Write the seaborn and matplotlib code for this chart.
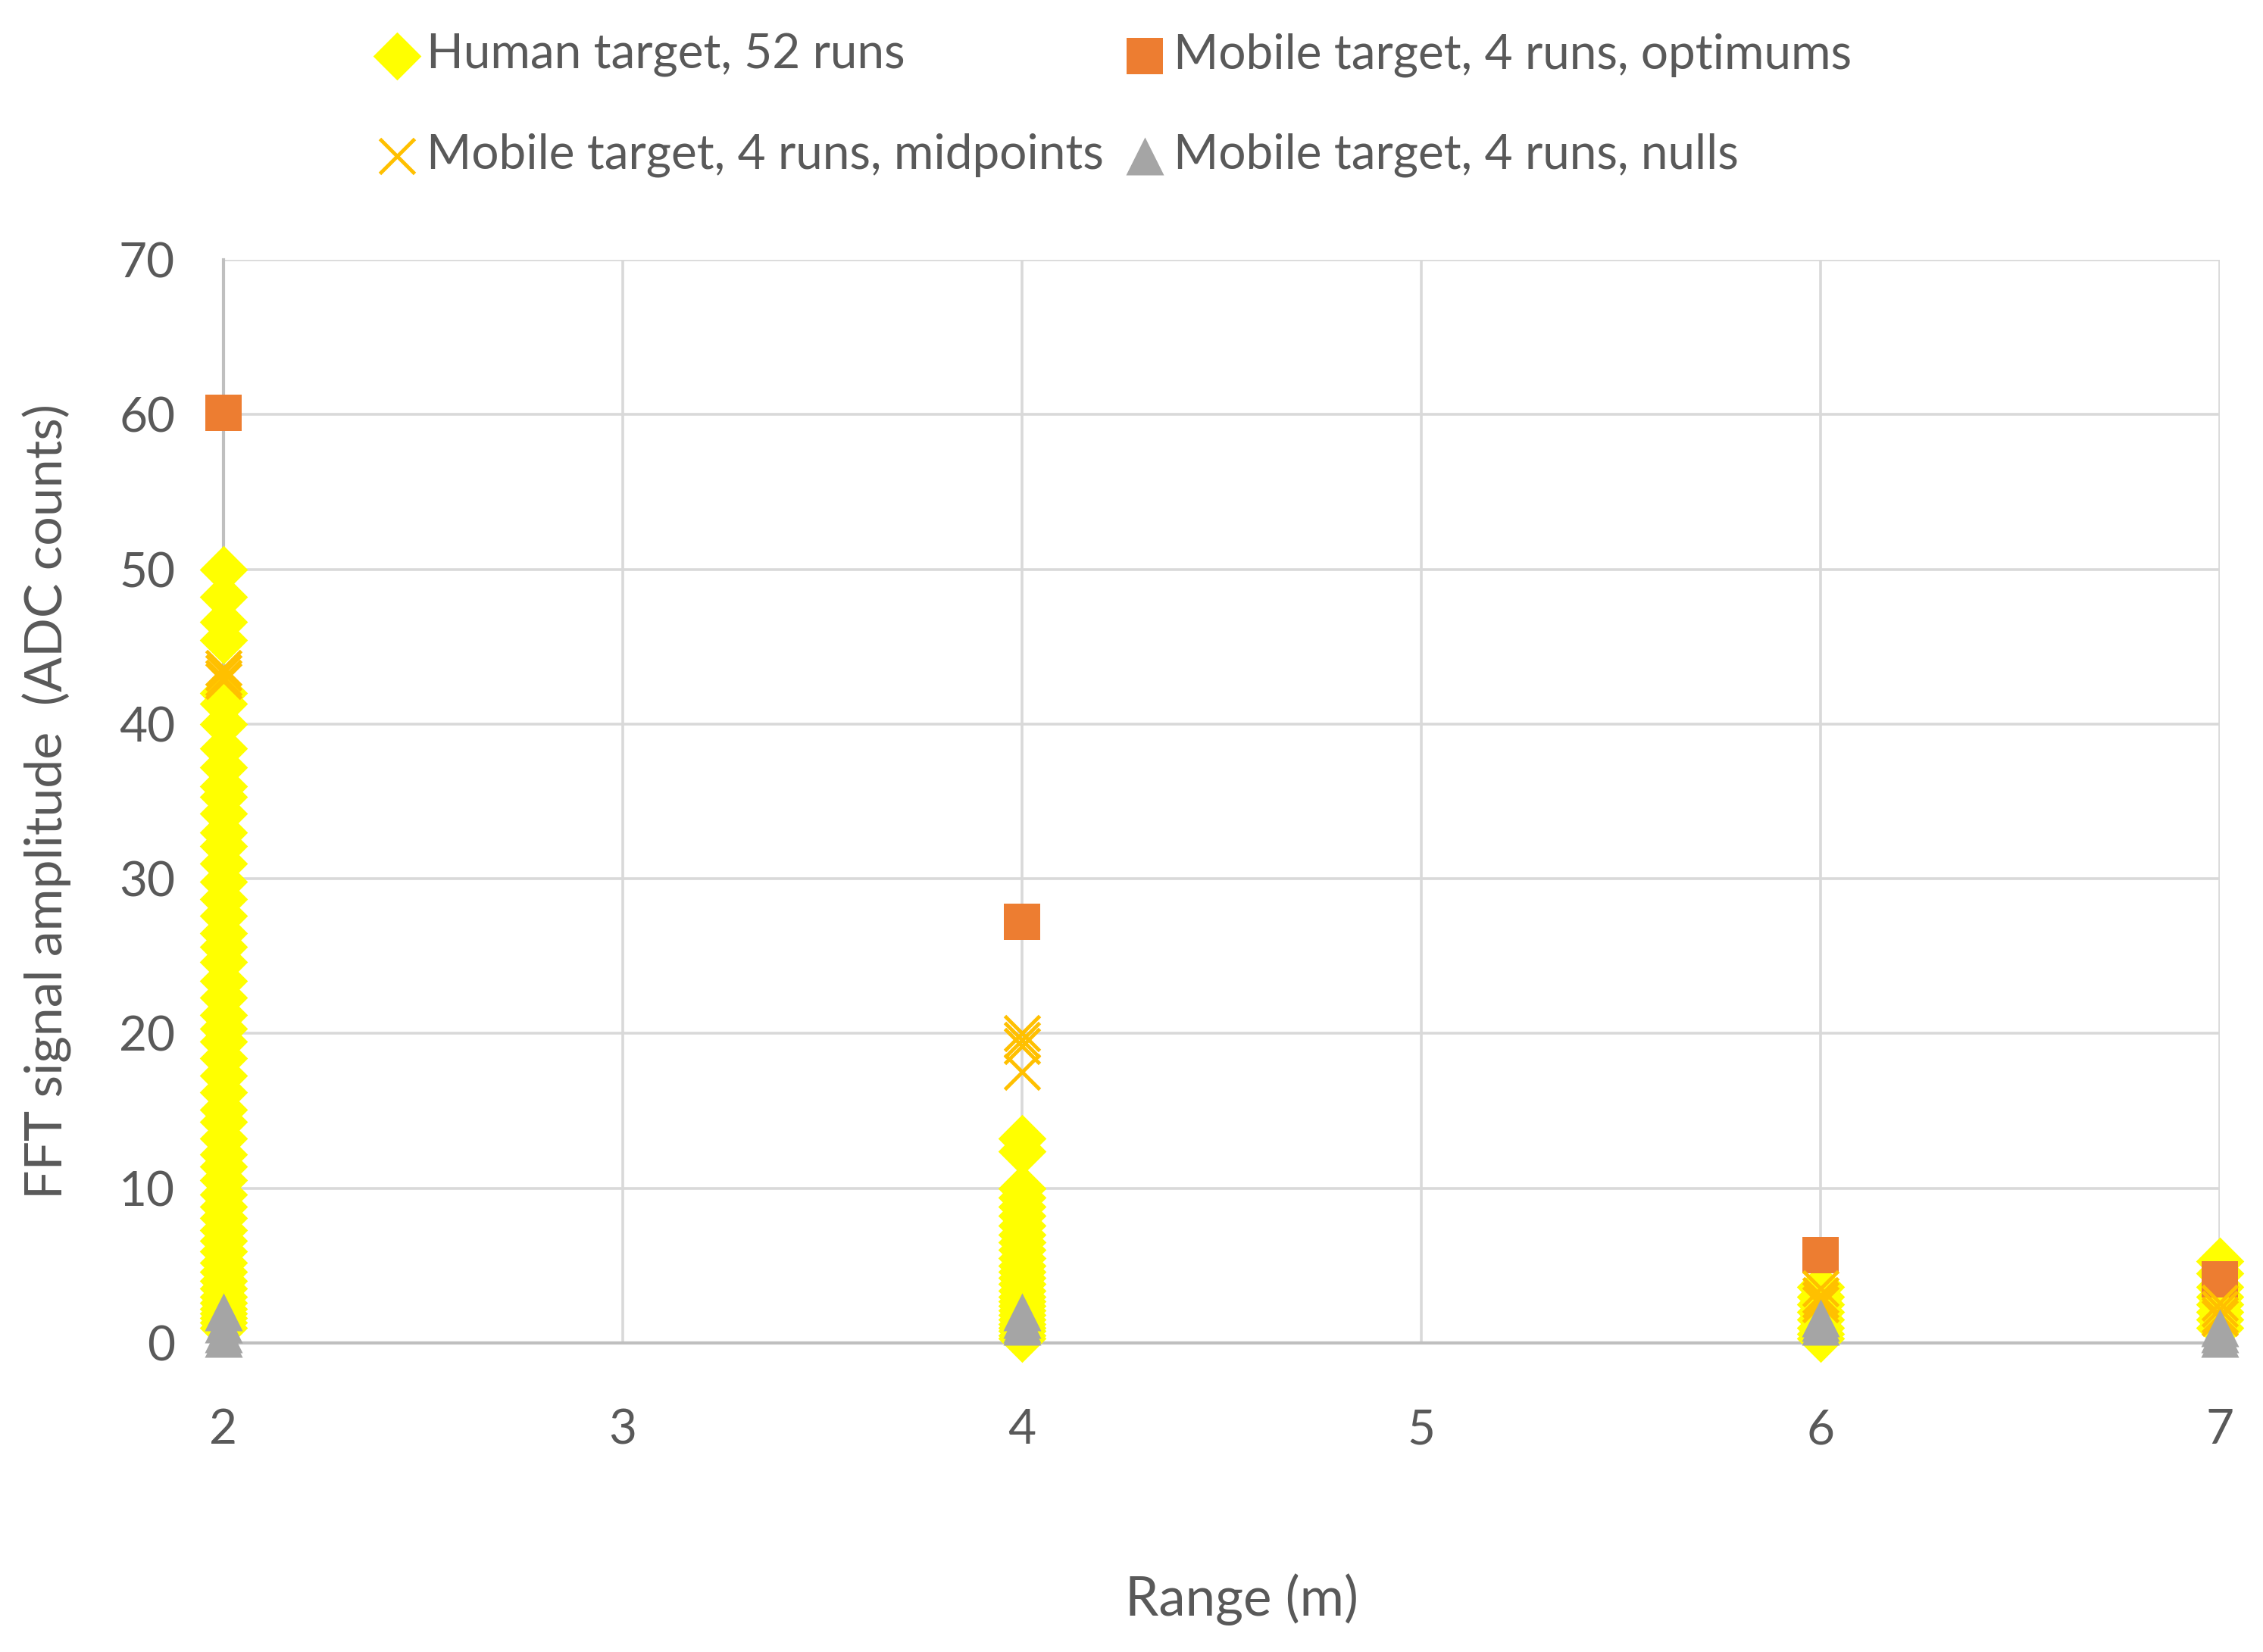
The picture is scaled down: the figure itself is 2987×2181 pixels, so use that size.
import matplotlib
matplotlib.use("Agg")
import matplotlib.pyplot as plt
import pandas as pd
import seaborn as sns

# ---------------- data ----------------
ranges = [2, 4, 6, 7]

human_r2 = [50.0, 48.2, 46.6, 45.4, 42.0, 41.3, 40.0, 38.4, 37.2, 36.0, 35.3, 34.2,
            33.0, 32.1, 31.0, 29.8, 28.7, 27.6, 26.5, 25.6, 24.6, 23.4, 22.3, 21.2,
            20.3, 19.5, 18.4, 17.3, 16.2, 15.1, 14.3, 13.2, 12.2, 11.4, 10.5, 9.6,
            8.8, 8.1, 7.3, 6.6, 5.9, 5.2, 4.6, 4.0, 3.5, 3.0, 2.6, 2.2, 1.9, 1.6,
            1.3, 1.0]
human_r4 = [13.2, 12.4, 10.0, 9.4, 8.8, 8.2, 7.6, 7.0, 6.5, 6.0, 5.5, 5.0, 4.6,
            4.2, 3.8, 3.4, 3.0, 2.7, 2.4, 2.1, 1.8, 1.5, 1.2, 1.0, 0.8, 0.5, 0.3]
human_r6 = [3.6, 3.0, 2.5, 2.0, 1.5, 1.0, 0.6, 0.3]
human_r7 = [5.3, 4.5, 3.6, 3.0, 2.5, 2.0, 1.5, 1.0]

optimum_amp = [60.1, 27.2, 5.7, 4.1]

midpoint_r2 = [43.6, 43.3, 43.0, 42.8]
midpoint_r4 = [20.0, 19.6, 19.2, 17.5]
midpoint_r6 = [3.5, 3.1, 2.8, 2.5]
midpoint_r7 = [2.6, 2.2, 1.8, 1.6]

null_r2 = [2.0, 1.2, 0.6, 0.3]
null_r4 = [2.0, 1.5, 1.2, 1.1]
null_r6 = [1.6, 1.3, 1.1]
null_r7 = [1.0, 0.6, 0.3]

labels = ["Human target, 52 runs", "Mobile target, 4 runs, optimums",
          "Mobile target, 4 runs, midpoints", "Mobile target, 4 runs, nulls"]
y_ticks = [0, 10, 20, 30, 40, 50, 60, 70]
x_ticks = [2, 3, 4, 5, 6, 7]
x_title = "Range (m)"
y_title = "FFT signal amplitude  (ADC counts)"


def frame(groups):
    xs, ys = [], []
    for r, vals in zip(ranges, groups):
        xs += [r] * len(vals)
        ys += list(vals)
    return pd.DataFrame({"range": xs, "amp": ys})


human = frame([human_r2, human_r4, human_r6, human_r7])
optimum = pd.DataFrame({"range": ranges, "amp": optimum_amp})
midpoint = frame([midpoint_r2, midpoint_r4, midpoint_r6, midpoint_r7])
nulls = frame([null_r2, null_r4, null_r6, null_r7])

# ---------------- style ----------------
sns.set_style("white")
plt.rcParams["font.family"] = ["Lato", "DejaVu Sans"]
TXT = "#595959"
FS = 46

fig = plt.figure(figsize=(29.87, 21.81), dpi=100)
ax = fig.add_axes([0.09876, 0.18707, 0.8822, 0.6557])

sns.scatterplot(data=human, x="range", y="amp", marker="D", s=1050, color="#FFFF00",
                linewidth=0, ax=ax, label=labels[0], clip_on=False, zorder=3)
sns.scatterplot(data=optimum, x="range", y="amp", marker="s", s=1150, color="#ED7D31",
                linewidth=0, ax=ax, label=labels[1], clip_on=False, zorder=4)
sns.scatterplot(data=midpoint, x="range", y="amp", marker="x", s=1100, color="#FFC000",
                linewidth=3.5, ax=ax, label=labels[2], clip_on=False, zorder=5)
sns.scatterplot(data=nulls, x="range", y="amp", marker="^", s=1300, color="#A5A5A5",
                linewidth=0, ax=ax, label=labels[3], clip_on=False, zorder=6)

ax.set_xlim(2, 7)
ax.set_ylim(0, 70)
ax.set_xticks(x_ticks)
ax.set_yticks(y_ticks)
ax.grid(True, color="#D9D9D9", linewidth=2.6)
ax.set_axisbelow(True)
for s in ["top", "right"]:
    ax.spines[s].set_visible(False)
for s in ["left", "bottom"]:
    ax.spines[s].set_color("#BFBFBF")
    ax.spines[s].set_linewidth(3)
ax.tick_params(axis="x", length=0, pad=62, labelsize=FS, labelcolor=TXT)
ax.tick_params(axis="y", length=0, pad=46, labelsize=FS, labelcolor=TXT)

ax.set_xlabel(x_title, fontsize=51, color=TXT)
ax.set_ylabel(y_title, fontsize=49, color=TXT)
ax.xaxis.set_label_coords(0.51, -0.213)
ax.yaxis.set_label_coords(-0.076, 0.5)

handles, labs = ax.get_legend_handles_labels()
ax.get_legend().remove()
order = [0, 2, 1, 3]
fig.legend([handles[i] for i in order], [labs[i] for i in order],
           loc="upper left", bbox_to_anchor=(0.168, 0.980), ncol=2, frameon=False,
           fontsize=FS, labelcolor=TXT, handlelength=0.7, handletextpad=0.25,
           columnspacing=0.5, labelspacing=1.15, borderpad=0, borderaxespad=0,
           scatterpoints=1)

fig.savefig("out.png", dpi=100)
